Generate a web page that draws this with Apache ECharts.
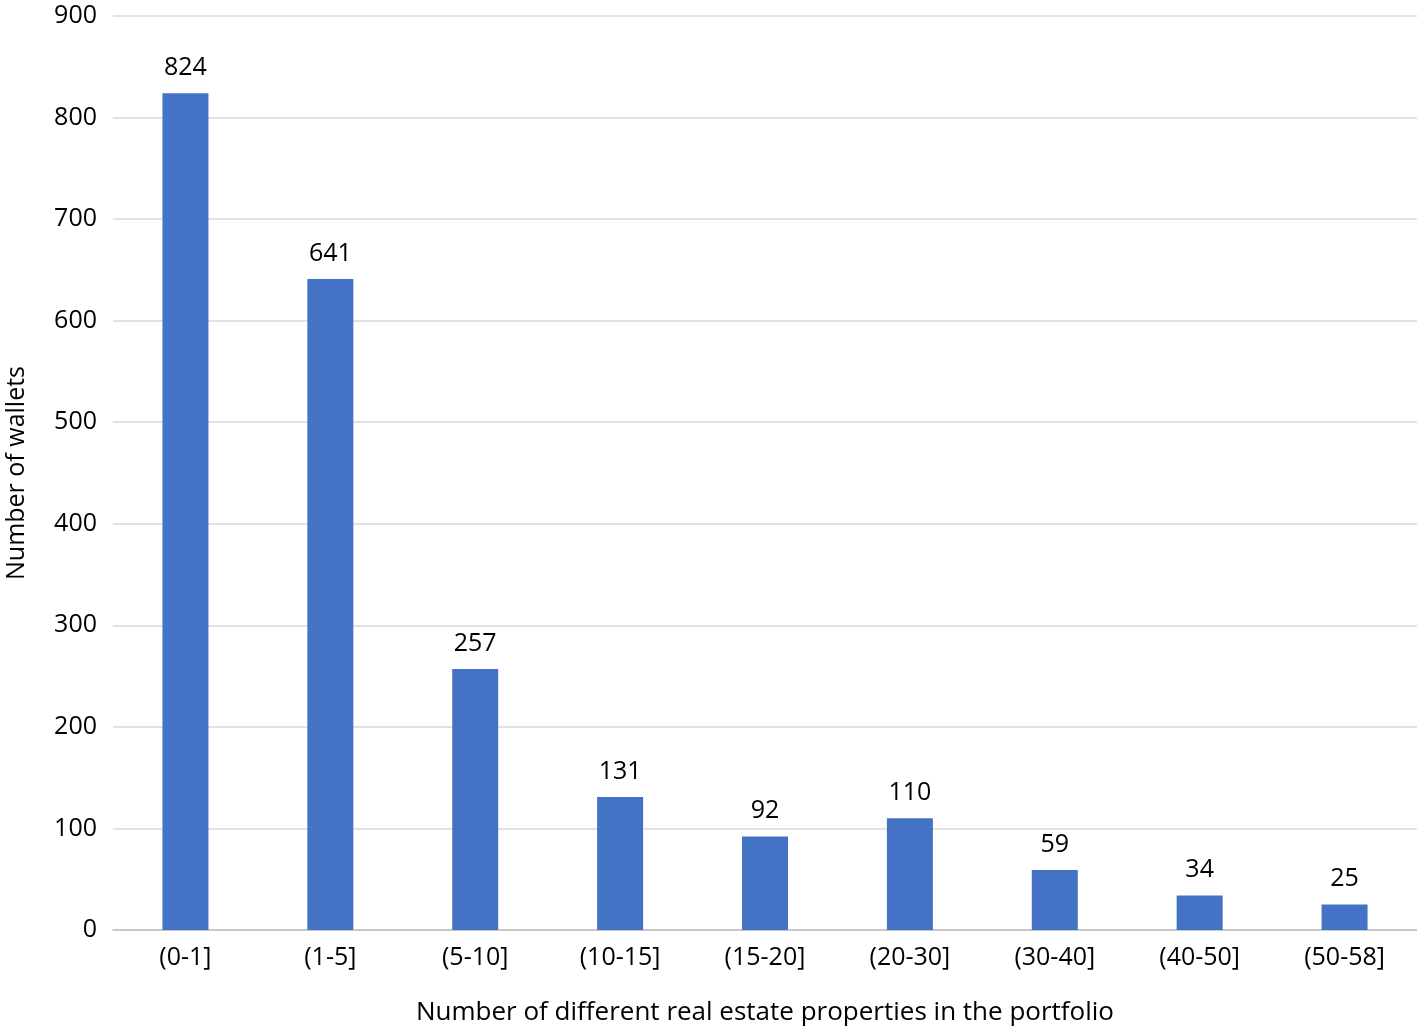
<!DOCTYPE html>
<html>
<head>
<meta charset="utf-8">
<script src="https://cdn.jsdelivr.net/npm/echarts@6/dist/echarts.min.js"></script>
<style>
  html, body { margin: 0; padding: 0; background: #fff; }
  #chart { width: 1417px; height: 1031px; }
</style>
</head>
<body>
<div id="chart"></div>
<script>
const categories = ['(0-1]', '(1-5]', '(5-10]', '(10-15]', '(15-20]', '(20-30]', '(30-40]', '(40-50]', '(50-58]'];
const wallets = [824, 641, 257, 131, 92, 110, 59, 34, 25];

const fontFamily = '"Open Sans", "Noto Sans", sans-serif';

const chart = echarts.init(document.getElementById('chart'));
chart.setOption({
  animation: false,
  textStyle: { fontFamily: fontFamily },
  grid: { left: 113, right: 0, top: 16, bottom: 101, outerBoundsMode: 'none', containLabel: false },
  xAxis: {
    type: 'category',
    data: categories,
    name: 'Number of different real estate properties in the portfolio',
    nameLocation: 'middle',
    nameGap: 70,
    nameTextStyle: { fontSize: 26, color: '#000', fontFamily: fontFamily },
    axisLine: { lineStyle: { color: '#bfbfbf', width: 1.5 } },
    axisTick: { show: false },
    axisLabel: { fontSize: 25, color: '#000', margin: 15, fontFamily: fontFamily }
  },
  yAxis: {
    type: 'value',
    min: 0,
    max: 900,
    interval: 100,
    name: 'Number of wallets',
    nameLocation: 'middle',
    nameGap: 84,
    nameTextStyle: { fontSize: 25, color: '#000', fontFamily: fontFamily },
    axisLine: { show: false },
    axisTick: { show: false },
    axisLabel: { fontSize: 25, color: '#000', margin: 16, fontFamily: fontFamily },
    splitLine: { lineStyle: { color: '#d9d9d9', width: 1.5 } }
  },
  series: [{
    type: 'bar',
    data: wallets,
    barWidth: 46,
    itemStyle: { color: '#4472c4' },
    label: {
      show: true,
      position: 'top',
      distance: 13,
      fontSize: 25,
      color: '#000',
      fontFamily: fontFamily
    }
  }]
});
</script>
</body>
</html>
